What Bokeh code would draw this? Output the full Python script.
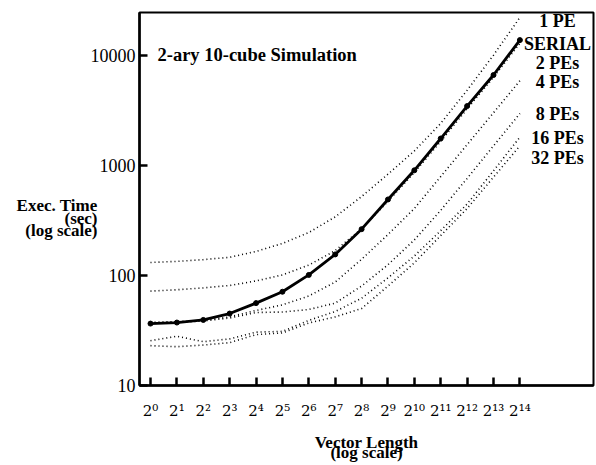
from bokeh.plotting import figure
from bokeh.models import Label, FixedTicker, PrintfTickFormatter, Range1d
from bokeh.embed import file_html
from bokeh.resources import INLINE

# ---- data (x = exponent k of vector length 2^k, y = exec time in sec) ----
exponents = list(range(15))
y_ticks = [10, 100, 1000, 10000]
SUP = str.maketrans("0123456789", "⁰¹²³⁴⁵⁶⁷⁸⁹")
x_tick_labels = ["2" + str(k).translate(SUP) for k in exponents]

serial = [36.5, 37.3, 39.4, 45, 56, 71, 101, 155, 263, 489, 900, 1750, 3450, 6600, 13700]
pe1 = [131, 134, 139, 146, 165, 195, 245, 340, 520, 830, 1350, 2400, 4800, 10000, 22000]
pe2 = [72, 74, 77, 81, 89, 101, 124, 168, 265, 470, 860, 1650, 3250, 6300, 12800]
pe4 = [37.5, 38, 39, 42, 48, 54, 65, 87, 140, 235, 405, 790, 1540, 3000, 5850]
pe8 = [37, 37.5, 38.5, 41, 46, 46.5, 49, 56, 80, 125, 210, 390, 760, 1500, 2950]
pe16 = [25.5, 28, 25, 26.5, 30.5, 31, 39, 47, 62, 95, 150, 255, 445, 890, 1800]
pe32 = [23, 22.5, 23.3, 24.5, 29, 30, 37, 42, 50, 80, 130, 230, 405, 780, 1500]

series_labels = ["1 PE", "SERIAL", "2 PEs", "4 PEs", "8 PEs", "16 PEs", "32 PEs"]
title_text = "2-ary 10-cube Simulation"
y_label_text = "\n\n\nExec. Time\n(sec)\n(log scale)"
x_label_text = "Vector Length\n(log scale)"

FONT = "Liberation Serif"
X0, X1 = -0.417, 16.79
Y0, Y1 = 10, 24400

p = figure(width=596, height=465, output_backend="svg", toolbar_location=None,
           y_axis_type="log", x_range=Range1d(X0, X1), y_range=Range1d(Y0, Y1),
           min_border_left=139, min_border_right=3, min_border_top=12,
           min_border_bottom=71)
p.background_fill_color = "white"
p.border_fill_color = "white"
p.outline_line_color = "black"
p.outline_line_width = 2
p.xgrid.visible = False
p.ygrid.visible = False

# axes
for ax in (p.xaxis, p.yaxis):
    ax.axis_line_width = 2.5
    ax.axis_line_color = "black"
    ax.major_tick_in = 8
    ax.major_tick_out = 0
    ax.major_tick_line_width = 2.5
    ax.minor_tick_in = 0
    ax.minor_tick_out = 0
    ax.axis_label_text_font = FONT
    ax.axis_label_text_font_style = "bold"
    ax.axis_label_text_font_size = "17px"
    ax.axis_label_text_color = "black"
    ax.major_label_text_font = FONT
    ax.major_label_text_color = "black"

p.yaxis.ticker = FixedTicker(ticks=y_ticks)
p.yaxis.formatter = PrintfTickFormatter(format="%d")
p.yaxis.major_label_text_font_size = "18px"
p.yaxis.major_label_standoff = 4
p.yaxis.axis_label = y_label_text
p.yaxis.axis_label_orientation = "horizontal"
p.yaxis.axis_label_text_line_height = 0.67
p.yaxis.axis_label_standoff = -10

p.xaxis.ticker = FixedTicker(ticks=exponents)
p.xaxis.major_label_overrides = dict(zip(exponents, x_tick_labels))
p.xaxis.major_label_text_font = "DejaVu Serif"
p.xaxis.major_label_text_font_size = "15px"
p.xaxis.major_label_standoff = 16
p.xaxis.axis_label = x_label_text
p.xaxis.axis_label_text_line_height = 0.56
p.xaxis.axis_label_standoff = 10

# dotted PE curves
for ys in (pe1, pe2, pe4, pe8, pe16, pe32):
    p.line(exponents, ys, line_color="black", line_width=1.6, line_dash="1 3")

# serial curve
p.line(exponents, serial, line_color="black", line_width=2.8)
p.scatter(exponents, serial, size=5, color="black")

# title inside
p.add_layout(Label(x=X0, y=10000, x_offset=18, y_offset=0, text=title_text,
                   text_align="left", text_baseline="middle", text_font=FONT,
                   text_font_style="bold", text_font_size="18.5px", text_color="black"))

# right-side series labels
right_offsets = [-8, -31, -50, -69, -101, -125, -145]
for lab, off in zip(series_labels, right_offsets):
    p.add_layout(Label(x=X1, y=Y1, x_offset=-36, y_offset=off, text=lab,
                       text_align="center", text_baseline="middle", text_font=FONT,
                       text_font_style="bold", text_font_size="18px", text_color="black"))

open("out.html", "w").write(file_html(p, INLINE))
